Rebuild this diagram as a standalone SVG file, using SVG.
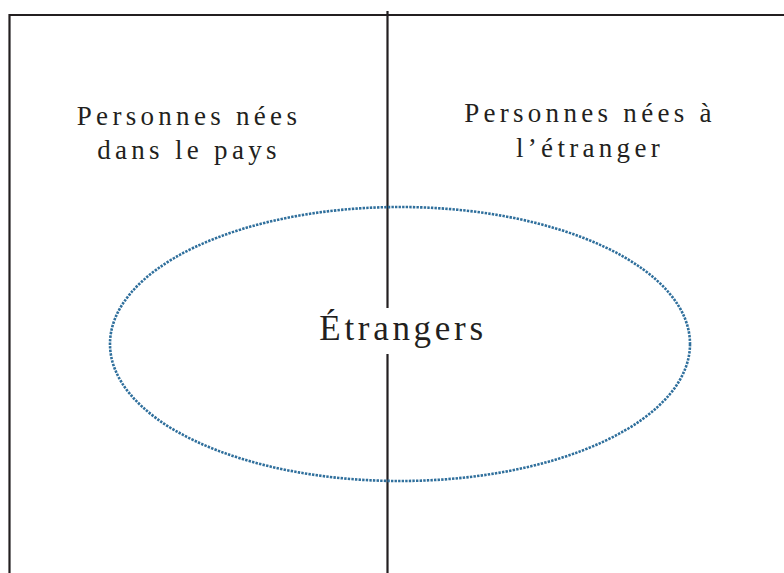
<svg xmlns="http://www.w3.org/2000/svg" width="784" height="573" viewBox="0 0 784 573">
<style>
.ln{stroke:#231f20;stroke-width:2.2;fill:none}
.lbl{font-family:"Liberation Serif","Times New Roman",serif;fill:#231f20;text-anchor:middle}
.s{font-size:27px;letter-spacing:4.3px}
.b{font-size:35px;letter-spacing:3.7px}
.ell{fill:none;stroke:#2f6f9c;stroke-width:2.6;stroke-dasharray:2.4 1.2}
</style>
<g id="connectors">
<line class="ln" x1="9.5" y1="15" x2="784" y2="15"/>
<line class="ln" x1="9.5" y1="14" x2="9.5" y2="573"/>
<line class="ln" x1="387.5" y1="11" x2="387.5" y2="573"/>
</g>
<g id="left">
<text class="lbl s" x="189" y="125">Personnes nées</text>
<text class="lbl s" x="189" y="159">dans le pays</text>
</g>
<g id="right">
<text class="lbl s" x="590" y="122">Personnes nées à</text>
<text class="lbl s" x="590" y="157">l’étranger</text>
</g>
<g id="etrangers">
<ellipse class="ell" cx="400" cy="344" rx="290" ry="137"/>
<rect x="370" y="308" width="35" height="46" fill="#fff"/>
<text class="lbl b" x="403" y="340">Étrangers</text>
</g>
</svg>
